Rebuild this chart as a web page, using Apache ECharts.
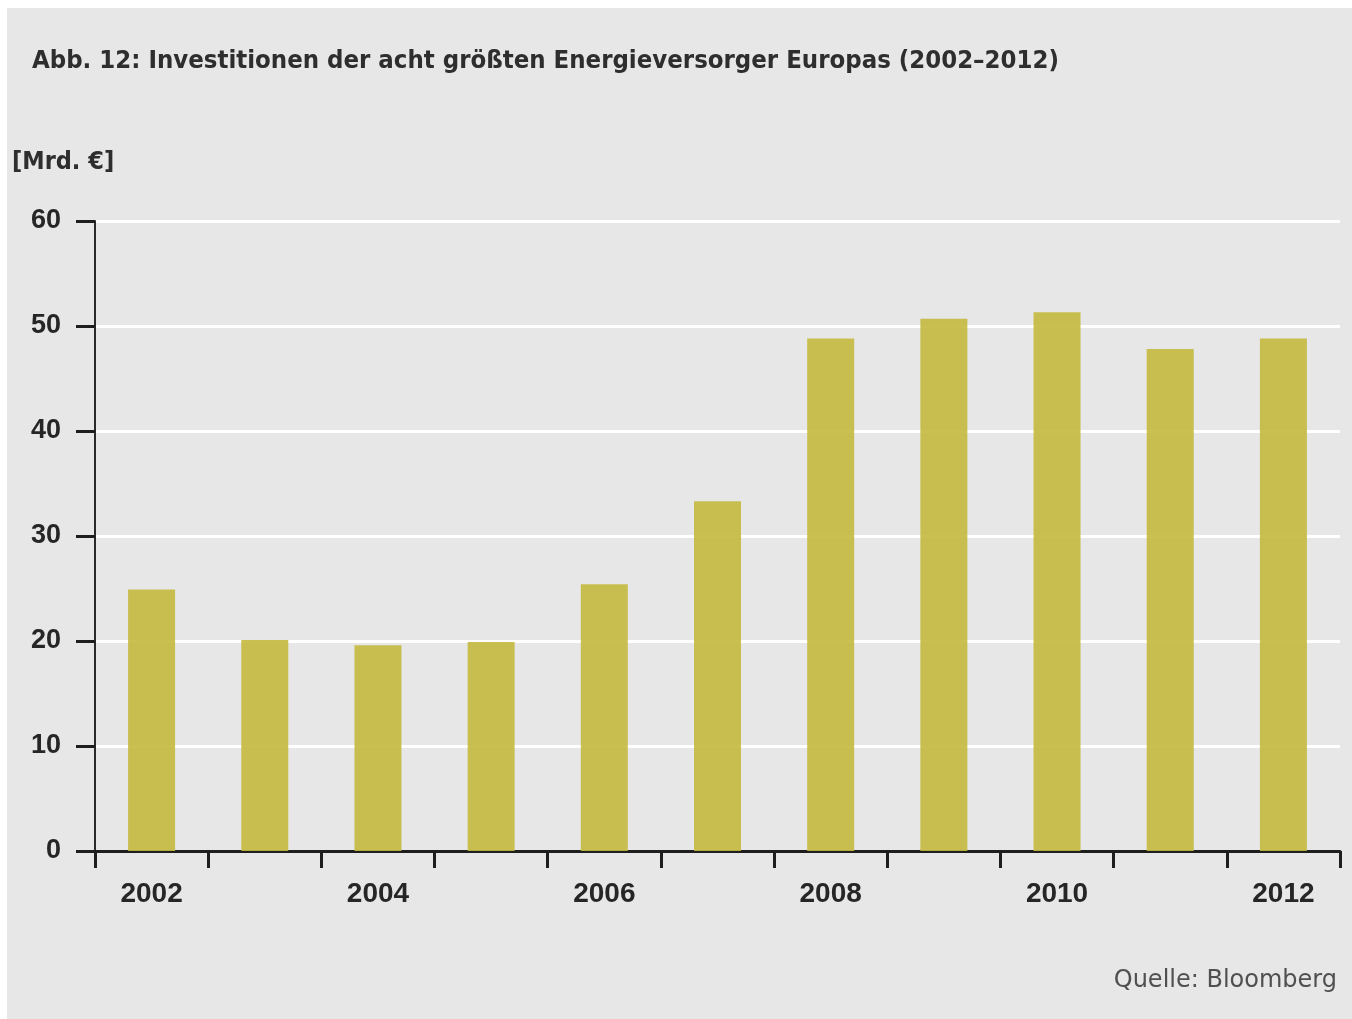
<!DOCTYPE html>
<html>
<head>
<meta charset="utf-8">
<script src="https://cdn.jsdelivr.net/npm/echarts@6/dist/echarts.min.js"></script>
<style>
  html, body { margin: 0; padding: 0; background: #ffffff; }
  #chart { position: absolute; left: 7px; top: 8px; width: 1345px; height: 1011px; background: #e7e7e7; }
</style>
</head>
<body>
<div id="chart"></div>
<script>
// Investitionen der acht größten Energieversorger Europas, Mrd. €
const years = ['2002', '2003', '2004', '2005', '2006', '2007', '2008', '2009', '2010', '2011', '2012'];
const investments = [24.9, 20.1, 19.6, 19.9, 25.4, 33.3, 48.8, 50.7, 51.3, 47.8, 48.8];
const yMin = 0;
const yMax = 60;
const yStep = 10;

const titleText = 'Abb. 12: Investitionen der acht größten Energieversorger Europas (2002–2012)';
const unitText = '[Mrd. €]';
const sourceText = 'Quelle: Bloomberg';

const chart = echarts.init(document.getElementById('chart'), null, { renderer: 'canvas' });

chart.setOption({
  animation: false,
  backgroundColor: '#e7e7e7',
  title: {
    text: titleText,
    left: 25,
    top: 40,
    padding: 0,
    textStyle: {
      fontFamily: '"Liberation Sans Narrow", "DejaVu Sans Condensed", sans-serif',
      fontWeight: 'bold',
      fontSize: 25.5,
      color: '#2e2e2e'
    }
  },
  graphic: [
    {
      type: 'text',
      left: 5,
      top: 142,
      style: {
        text: unitText,
        font: 'bold 25px "Liberation Sans Narrow", "DejaVu Sans Condensed", sans-serif',
        fill: '#2e2e2e'
      }
    },
    {
      type: 'text',
      right: 15,
      top: 961,
      style: {
        text: sourceText,
        font: '24px "DejaVu Sans", sans-serif',
        fill: '#505050'
      }
    }
  ],
  grid: {
    left: 88,
    right: 12,
    top: 213,
    bottom: 168,
    containLabel: false
  },
  xAxis: {
    type: 'category',
    data: years,
    boundaryGap: true,
    axisLine: { show: true, lineStyle: { color: '#1e1e1e', width: 3 } },
    axisTick: { show: true, interval: 0, length: 17, lineStyle: { color: '#1e1e1e', width: 3 } },
    axisLabel: {
      interval: 1,
      margin: 29,
      fontFamily: '"Liberation Sans", Arial, sans-serif',
      fontWeight: 'bold',
      fontSize: 28,
      color: '#262626'
    },
    splitLine: { show: false }
  },
  yAxis: {
    type: 'value',
    min: yMin,
    max: yMax,
    interval: yStep,
    axisLine: { show: true, lineStyle: { color: '#2a2a2a', width: 2 } },
    axisTick: { show: true, length: 19, lineStyle: { color: '#1e1e1e', width: 3 } },
    axisLabel: {
      margin: 34,
      fontFamily: '"Liberation Sans", Arial, sans-serif',
      fontWeight: 'bold',
      fontSize: 27,
      color: '#262626'
    },
    splitLine: { show: true, lineStyle: { color: '#ffffff', width: 3 } }
  },
  series: [
    {
      type: 'bar',
      data: investments,
      barWidth: 47,
      itemStyle: { color: 'rgba(196, 185, 62, 0.9)' },
      silent: true
    }
  ]
});
</script>
</body>
</html>
